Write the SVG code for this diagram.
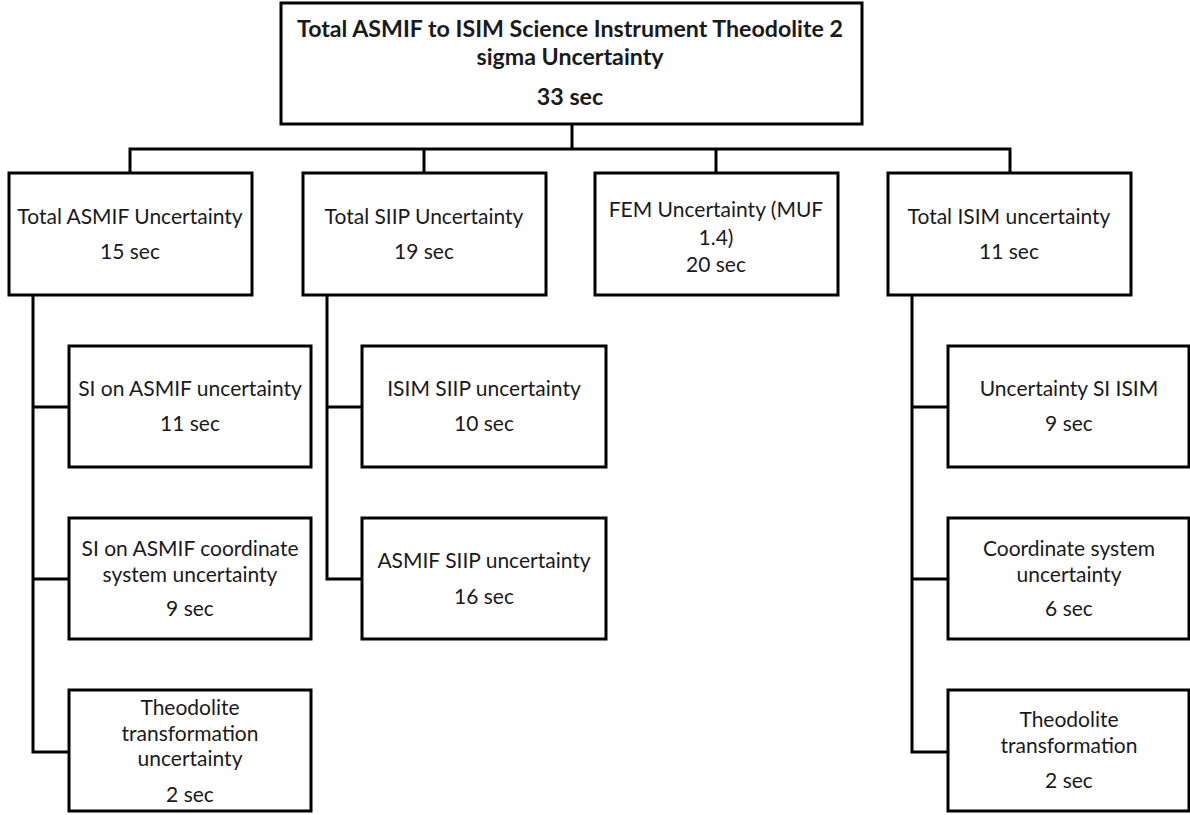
<svg xmlns="http://www.w3.org/2000/svg" width="1190" height="815" viewBox="0 0 1190 815">
<style>
.box{fill:#fff;stroke:#000;stroke-width:3}
.t{font-family:Lato,"Liberation Sans",sans-serif;font-size:21px;fill:#1a1a1a;text-anchor:middle}
.b{font-weight:bold;font-size:23.2px}
.c{fill:none;stroke:#000;stroke-width:3;stroke-linejoin:miter;stroke-linecap:square}
</style>
<rect width="1190" height="815" fill="#fff"/>
<g id="connectors">
<path class="c" d="M572 124V149M130 149H1010M130 149V173M424 149V173M716 149V173M1010 149V173"/>
<path class="c" d="M33 295V752H69M33 407H69M33 579H69"/>
<path class="c" d="M327 295V579H362M327 407H362"/>
<path class="c" d="M912 295V752H948M912 407H948M912 579H948"/>
</g>
<g id="n-total">
<rect class="box" x="281" y="3" width="581" height="121"/>
<text class="t b" x="570" y="37">Total ASMIF to ISIM Science Instrument Theodolite 2</text>
<text class="t b" x="570" y="65">sigma Uncertainty</text>
<text class="t b" x="570" y="105">33 sec</text>
</g>
<g id="n-asmif">
<rect class="box" x="9" y="173" width="243" height="122"/>
<text class="t" x="130" y="224">Total ASMIF Uncertainty</text>
<text class="t" x="130" y="259">15 sec</text>
</g>
<g id="n-siip">
<rect class="box" x="303" y="173" width="243" height="122"/>
<text class="t" x="424" y="224">Total SIIP Uncertainty</text>
<text class="t" x="424" y="259">19 sec</text>
</g>
<g id="n-fem">
<rect class="box" x="595" y="173" width="243" height="122"/>
<text class="t" x="716" y="217">FEM Uncertainty (MUF</text>
<text class="t" x="716" y="245">1.4)</text>
<text class="t" x="716" y="272">20 sec</text>
</g>
<g id="n-isim">
<rect class="box" x="888" y="173" width="243" height="122"/>
<text class="t" x="1009" y="224">Total ISIM uncertainty</text>
<text class="t" x="1009" y="259">11 sec</text>
</g>
<g id="n-si-asmif">
<rect class="box" x="69" y="346" width="242" height="121"/>
<text class="t" x="190" y="396">SI on ASMIF uncertainty</text>
<text class="t" x="190" y="431">11 sec</text>
</g>
<g id="n-si-asmif-coord">
<rect class="box" x="69" y="518" width="242" height="121"/>
<text class="t" x="190" y="556">SI on ASMIF coordinate</text>
<text class="t" x="190" y="582">system uncertainty</text>
<text class="t" x="190" y="616">9 sec</text>
</g>
<g id="n-theo-asmif">
<rect class="box" x="69" y="690" width="242" height="121"/>
<text class="t" x="190" y="715">Theodolite</text>
<text class="t" x="190" y="741">transformation</text>
<text class="t" x="190" y="766">uncertainty</text>
<text class="t" x="190" y="802">2 sec</text>
</g>
<g id="n-isim-siip">
<rect class="box" x="362" y="346" width="244" height="121"/>
<text class="t" x="484" y="396">ISIM SIIP uncertainty</text>
<text class="t" x="484" y="431">10 sec</text>
</g>
<g id="n-asmif-siip">
<rect class="box" x="362" y="518" width="244" height="121"/>
<text class="t" x="484" y="568">ASMIF SIIP uncertainty</text>
<text class="t" x="484" y="604">16 sec</text>
</g>
<g id="n-si-isim">
<rect class="box" x="948" y="346" width="241" height="121"/>
<text class="t" x="1069" y="396">Uncertainty SI ISIM</text>
<text class="t" x="1069" y="431">9 sec</text>
</g>
<g id="n-coord-isim">
<rect class="box" x="948" y="518" width="241" height="121"/>
<text class="t" x="1069" y="556">Coordinate system</text>
<text class="t" x="1069" y="582">uncertainty</text>
<text class="t" x="1069" y="616">6 sec</text>
</g>
<g id="n-theo-isim">
<rect class="box" x="948" y="690" width="241" height="121"/>
<text class="t" x="1069" y="727">Theodolite</text>
<text class="t" x="1069" y="753">transformation</text>
<text class="t" x="1069" y="788">2 sec</text>
</g>
</svg>
